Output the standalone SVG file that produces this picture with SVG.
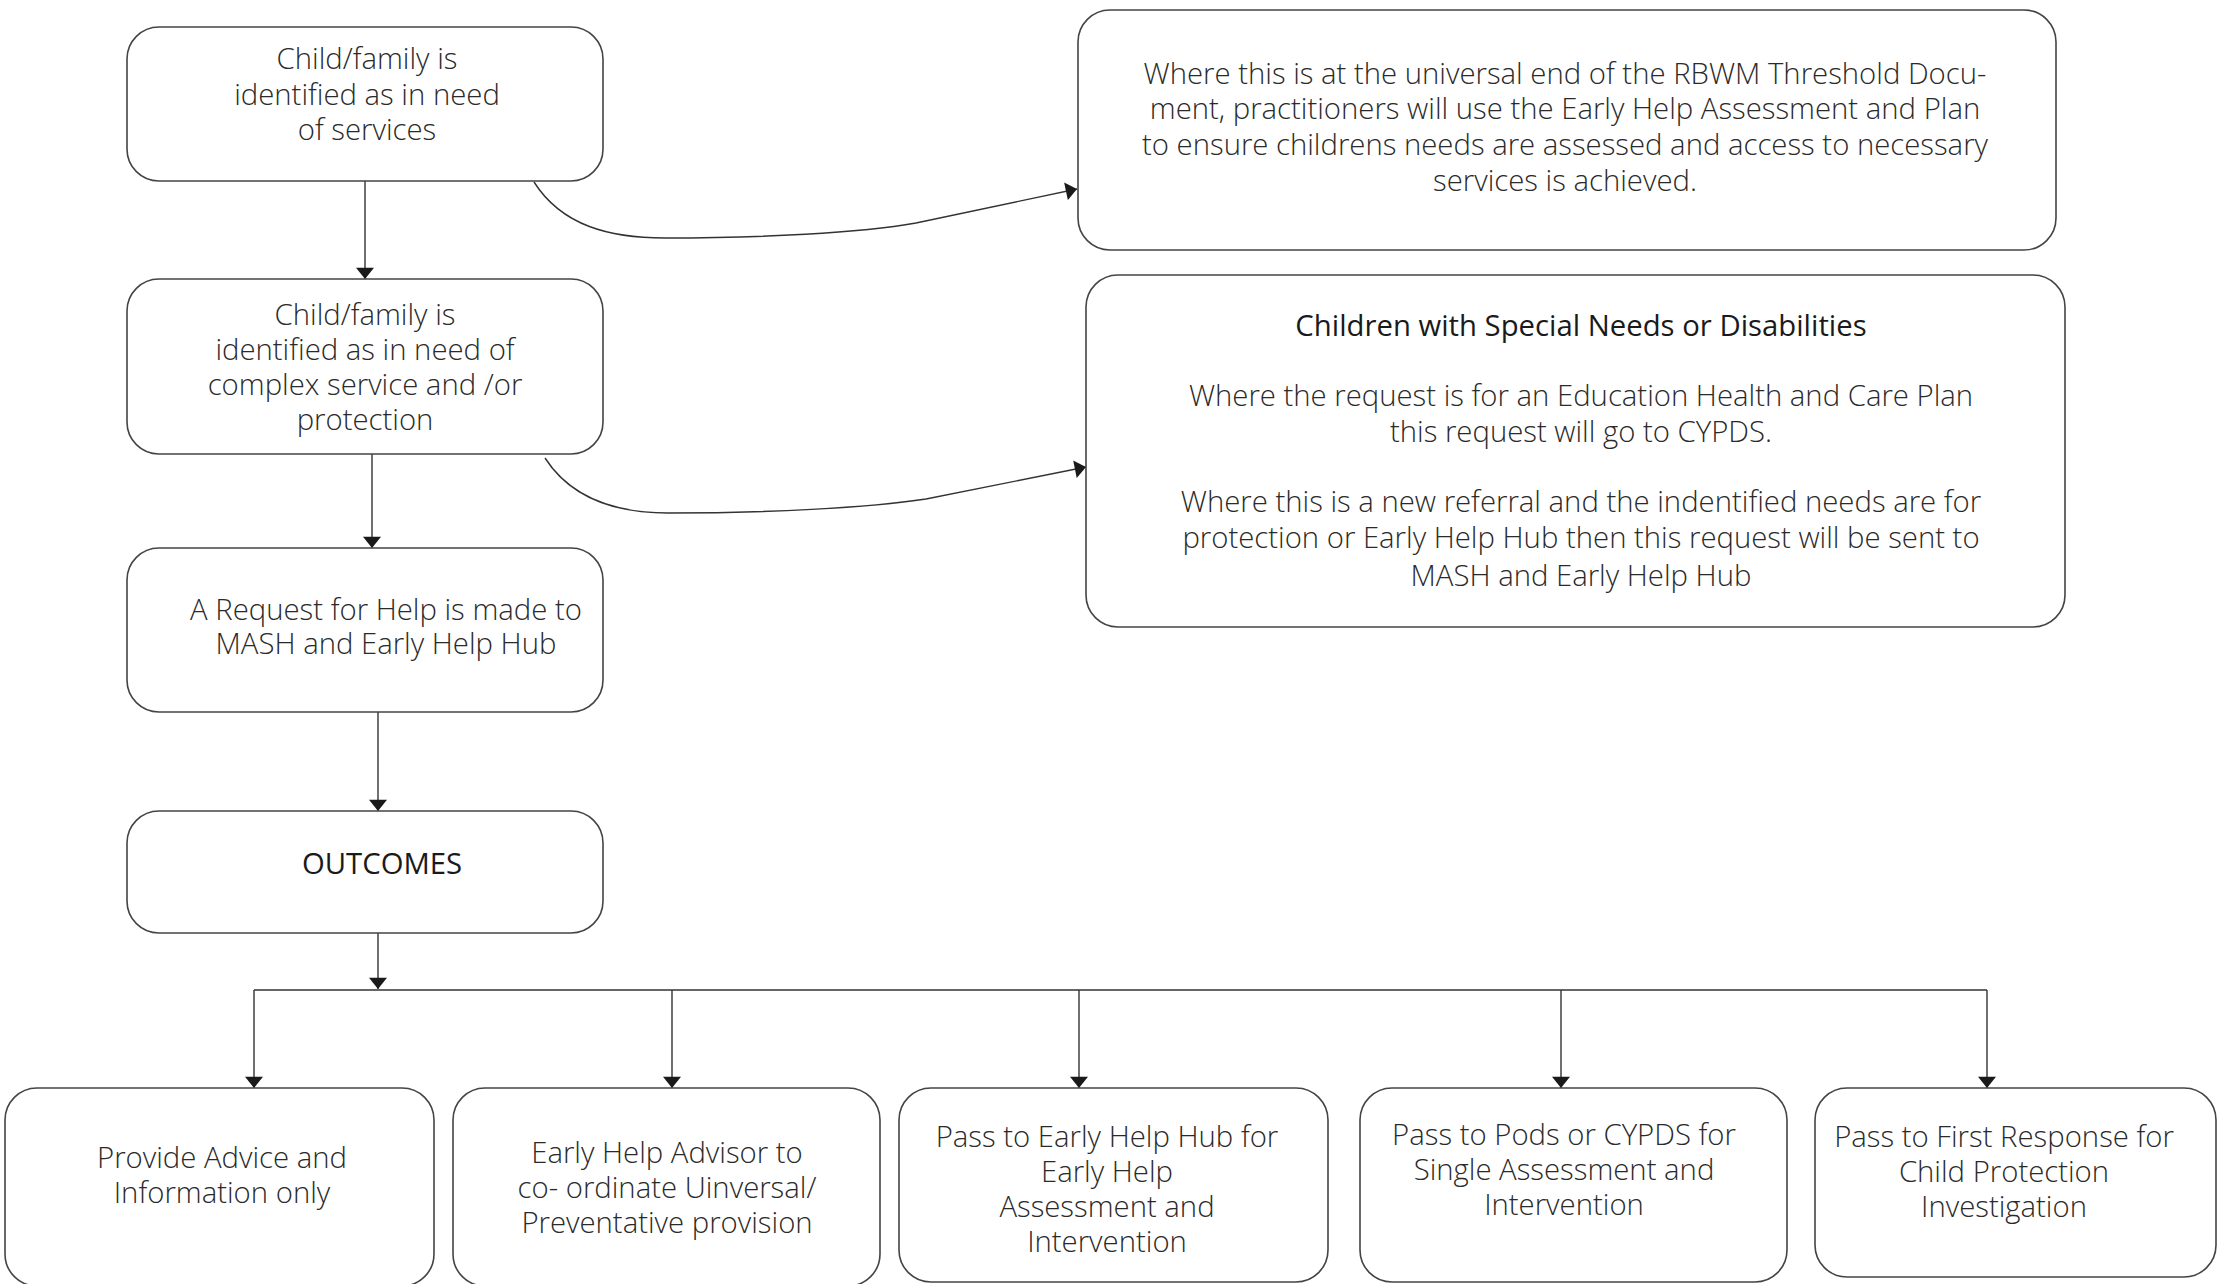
<svg xmlns="http://www.w3.org/2000/svg" width="2219" height="1284" viewBox="0 0 2219 1284">
<style>
.box{fill:#fff;stroke:#444;stroke-width:1.6}
.t{font-family:"Open Sans","Liberation Sans",sans-serif;font-size:29.3px;font-weight:300;fill:#2a2a2a;text-anchor:middle}
.r{font-weight:400;fill:#1a1a1a}
.c{fill:none;stroke:#333;stroke-width:1.4}
.bus{fill:none;stroke:#666;stroke-width:2.2}
</style>
<defs>
<marker id="ah" markerUnits="userSpaceOnUse" markerWidth="12" markerHeight="18" refX="10" refY="8" orient="auto" viewBox="0 0 10 16">
<path d="M0,0 L10,8 L0,16 z" fill="#1a1a1a"/>
</marker>
</defs>
<rect width="2219" height="1284" fill="#fff"/>

<g id="connectors">
<path class="c" d="M365 181 V279" marker-end="url(#ah)"/>
<path class="c" d="M372 454 V548" marker-end="url(#ah)"/>
<path class="c" d="M378 712 V811" marker-end="url(#ah)"/>
<path class="c" d="M378 933 V989" marker-end="url(#ah)"/>
<path class="bus" d="M254 990 H1987"/>
<path class="c" d="M254 990 V1088" marker-end="url(#ah)"/>
<path class="c" d="M672 990 V1088" marker-end="url(#ah)"/>
<path class="c" d="M1079 990 V1088" marker-end="url(#ah)"/>
<path class="c" d="M1561 990 V1088" marker-end="url(#ah)"/>
<path class="c" d="M1987 990 V1088" marker-end="url(#ah)"/>
<path class="c" d="M534 182 C562 226 610 238 665 238 C760 238 860 233 916 223 L1077 189" marker-end="url(#ah)"/>
<path class="c" d="M545 458 C572 500 618 513 668 513 C765 513 868 508 926 499 L1086 467" marker-end="url(#ah)"/>
</g>

<g id="n1">
<rect class="box" x="127" y="27" width="476" height="154" rx="32"/>
<text class="t" x="367" y="69">Child/family is</text>
<text class="t" x="367" y="105">identified as in need</text>
<text class="t" x="367" y="140">of services</text>
</g>

<g id="n2">
<rect class="box" x="127" y="279" width="476" height="175" rx="32"/>
<text class="t" x="365" y="325">Child/family is</text>
<text class="t" x="365" y="360">identified as in need of</text>
<text class="t" x="365" y="395">complex service and /or</text>
<text class="t" x="365" y="430">protection</text>
</g>

<g id="n3">
<rect class="box" x="127" y="548" width="476" height="164" rx="32"/>
<text class="t" x="386" y="620">A Request for Help is made to</text>
<text class="t" x="386" y="654">MASH and Early Help Hub</text>
</g>

<g id="n4">
<rect class="box" x="127" y="811" width="476" height="122" rx="32"/>
<text class="t r" x="382" y="874">OUTCOMES</text>
</g>

<g id="n5">
<rect class="box" x="1078" y="10" width="978" height="240" rx="32"/>
<text class="t" x="1565" y="84">Where this is at the universal end of the RBWM Threshold Docu-</text>
<text class="t" x="1565" y="119">ment, practitioners will use the Early Help Assessment and Plan</text>
<text class="t" x="1565" y="155">to ensure childrens needs are assessed and access to necessary</text>
<text class="t" x="1565" y="191">services is achieved.</text>
</g>

<g id="n6">
<rect class="box" x="1086" y="275" width="979" height="352" rx="32"/>
<text class="t r" x="1581" y="336">Children with Special Needs or Disabilities</text>
<text class="t" x="1581" y="406">Where the request is for an Education Health and Care Plan</text>
<text class="t" x="1581" y="442">this request will go to CYPDS.</text>
<text class="t" x="1581" y="512">Where this is a new referral and the indentified needs are for</text>
<text class="t" x="1581" y="548">protection or Early Help Hub then this request will be sent to</text>
<text class="t" x="1581" y="586">MASH and Early Help Hub</text>
</g>

<g id="b1">
<rect class="box" x="5" y="1088" width="429" height="198" rx="32"/>
<text class="t" x="222" y="1168">Provide Advice and</text>
<text class="t" x="222" y="1203">Information only</text>
</g>

<g id="b2">
<rect class="box" x="453" y="1088" width="427" height="198" rx="32"/>
<text class="t" x="667" y="1163">Early Help Advisor to</text>
<text class="t" x="667" y="1198">co- ordinate Uinversal/</text>
<text class="t" x="667" y="1233">Preventative provision</text>
</g>

<g id="b3">
<rect class="box" x="899" y="1088" width="429" height="194" rx="32"/>
<text class="t" x="1107" y="1147">Pass to Early Help Hub for</text>
<text class="t" x="1107" y="1182">Early Help</text>
<text class="t" x="1107" y="1217">Assessment and</text>
<text class="t" x="1107" y="1252">Intervention</text>
</g>

<g id="b4">
<rect class="box" x="1360" y="1088" width="427" height="194" rx="32"/>
<text class="t" x="1564" y="1145">Pass to Pods or CYPDS for</text>
<text class="t" x="1564" y="1180">Single Assessment and</text>
<text class="t" x="1564" y="1215">Intervention</text>
</g>

<g id="b5">
<rect class="box" x="1815" y="1088" width="401" height="189" rx="32"/>
<text class="t" x="2004" y="1147">Pass to First Response for</text>
<text class="t" x="2004" y="1182">Child Protection</text>
<text class="t" x="2004" y="1217">Investigation</text>
</g>
</svg>
